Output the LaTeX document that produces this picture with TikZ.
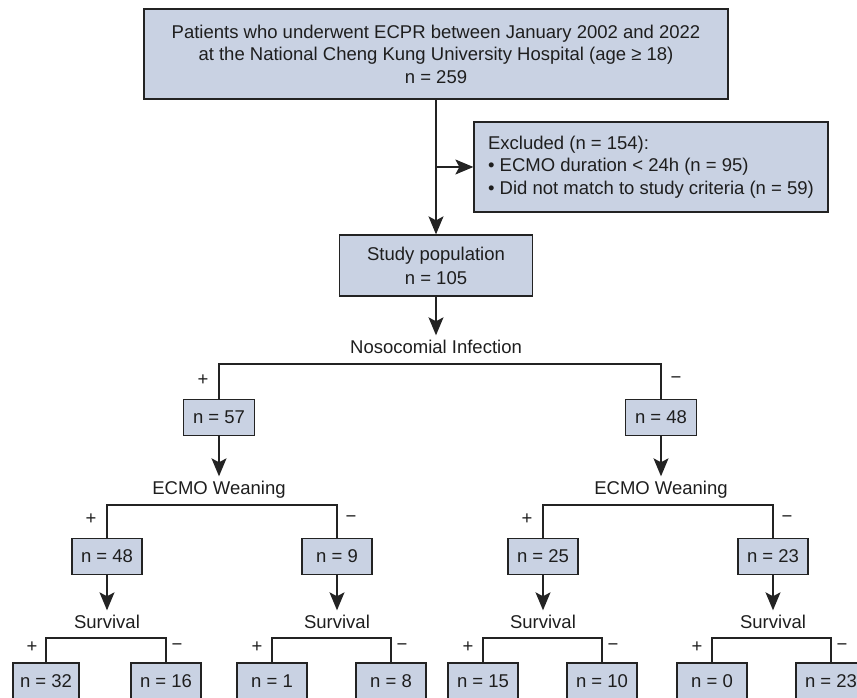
\documentclass[tikz,border=0pt]{standalone}
\usepackage{fontspec}
\setmainfont{Liberation Sans}
\usepackage{tikz}
\usetikzlibrary{arrows.meta,positioning}
\definecolor{boxfill}{RGB}{201,210,227}
\definecolor{boxline}{RGB}{35,35,35}
\definecolor{inktext}{RGB}{30,30,30}

\begin{document}
\begin{tikzpicture}[x=1pt,y=-1pt,
		every node/.style={font=\fontsize{18.5}{22.5}\selectfont, text=inktext},
		box/.style={draw=boxline, fill=boxfill, line width=1.3pt, inner sep=0pt, align=center},
		nbox/.style={box, minimum width=70pt, minimum height=36pt},
		crit/.style={inner sep=5pt, text height=13pt, text depth=4pt},
		sign/.style={inner sep=0pt},
		line/.style={draw=boxline, line width=1.3pt},
		arr/.style={line, -{Stealth[length=18pt,width=15pt,inset=4pt]}}]
				\clip (0,0) rectangle (857,698);

				\node[box, minimum width=584pt, minimum height=90pt] (patients) at (436,54) {Patients who underwent ECPR between January 2002 and 2022\\at the National Cheng Kung University Hospital (age ≥ 18)\\n = 259};
				\node[box, minimum width=354pt, minimum height=90pt, align=left] (excluded) at (651,167) {Excluded (n = 154):\\• ECMO duration < 24h (n = 95)\\• Did not match to study criteria (n = 59)};
				\node[box, minimum width=193pt, minimum height=61pt, font=\fontsize{18.5}{24}\selectfont] (study) at (436,265.5) {Study population\\n = 105};

				\node[crit] (nosoc) at (436,349) {Nosocomial Infection};
				\coordinate (nosocfork) at (436,364);
				\node[nbox, minimum width=71pt] (inf) at (219,417.5) {n = 57};
				\node[nbox, minimum width=71pt] (noinf) at (661,417.5) {n = 48};

				\node[crit] (weanI) at (219,490) {ECMO Weaning};
				\node[crit] (weanN) at (661,490) {ECMO Weaning};
				\coordinate (weanIfork) at (219,505);
				\coordinate (weanNfork) at (661,505);
				\node[nbox] (iw) at (107,556.5) {n = 48};
				\node[nbox] (in) at (337,556.5) {n = 9};
				\node[nbox] (nw) at (543,556.5) {n = 25};
				\node[nbox] (nn) at (773,556.5) {n = 23};

				\node[crit] (survIW) at (107,624) {Survival};
				\node[crit] (survIN) at (337,624) {Survival};
				\node[crit] (survNW) at (543,624) {Survival};
				\node[crit] (survNN) at (773,624) {Survival};
				\coordinate (survIWfork) at (107,638);
				\coordinate (survINfork) at (337,638);
				\coordinate (survNWfork) at (543,638);
				\coordinate (survNNfork) at (773,638);
				\node[nbox, minimum width=66pt] (iws) at (46,681) {n = 32};
				\node[nbox] (iwd) at (166,681) {n = 16};
				\node[nbox] (ins) at (272,681) {n = 1};
				\node[nbox] (ind) at (391,681) {n = 8};
				\node[nbox] (nws) at (483,681) {n = 15};
				\node[nbox] (nwd) at (602,681) {n = 10};
				\node[nbox] (nns) at (712,681) {n = 0};
				\node[nbox] (nnd) at (831,681) {n = 23};

				% + / - marks at the branch corners
				\node[sign] (p0) at (203,380) {+};
				\node[sign] (m0) at (676,380) {−};
				\node[sign] (p1) at (91,519) {+};
				\node[sign] (m1) at (351,519) {−};
				\node[sign] (p2) at (527,519) {+};
				\node[sign] (m2) at (787,519) {−};
				\node[sign] (p3) at (32,647) {+};
				\node[sign] (m3) at (177,647) {−};
				\node[sign] (p4) at (257,647) {+};
				\node[sign] (m4) at (402,647) {−};
				\node[sign] (p5) at (468,647) {+};
				\node[sign] (m5) at (613,647) {−};
				\node[sign] (p6) at (697,647) {+};
				\node[sign] (m6) at (842,647) {−};

				\draw[arr] (patients) to (study);
				\draw[arr] (study.north |- excluded.west) to (excluded.west);
				\draw[arr] (study) to (nosoc);
				\draw[line] (inf.north) |- (nosocfork) -| (noinf.north);

				\draw[arr] (inf) to (weanI);
				\draw[arr] (noinf) to (weanN);
				\draw[line] (iw.north) |- (weanIfork) -| (in.north);
				\draw[line] (nw.north) |- (weanNfork) -| (nn.north);

				\draw[arr] (iw) to (survIW);
				\draw[arr] (in) to (survIN);
				\draw[arr] (nw) to (survNW);
				\draw[arr] (nn) to (survNN);
				\draw[line] (iws.north) |- (survIWfork) -| (iwd.north);
				\draw[line] (ins.north) |- (survINfork) -| (ind.north);
				\draw[line] (nws.north) |- (survNWfork) -| (nwd.north);
				\draw[line] (nns.north) |- (survNNfork) -| (nnd.north);
		\end{tikzpicture}
\end{document}
